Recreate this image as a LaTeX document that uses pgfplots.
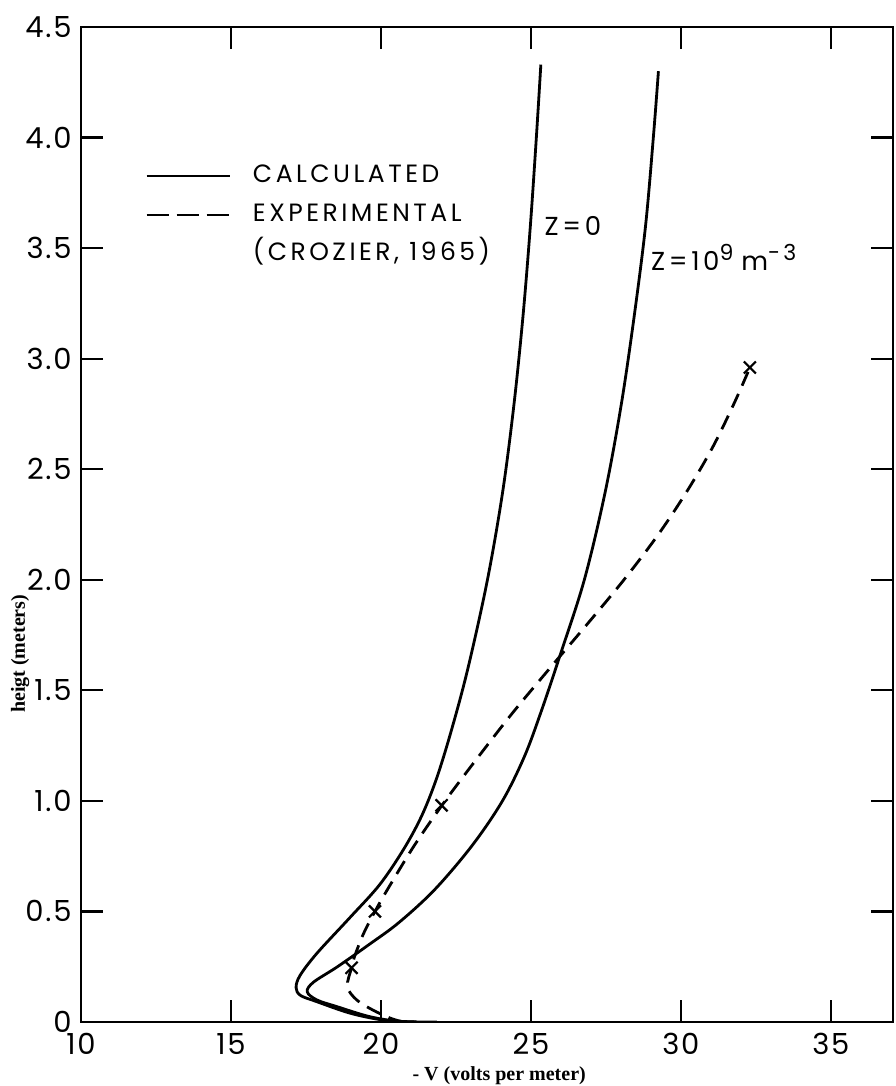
\documentclass[border=0pt]{standalone}
\usepackage{fontspec}
\setmainfont{Poppins}
\newfontfamily\lettering[LetterSpace=14]{Poppins}
\newfontfamily\ticklettering[LetterSpace=6]{Poppins}
\newfontfamily\serifb{Liberation Serif}
\usepackage{pgfplots}
\pgfplotsset{compat=1.18}
\begin{document}
\begin{tikzpicture}
\useasboundingbox (-81pt,-64pt) rectangle (814pt,1022pt);
\begin{axis}[
  scale only axis, width=812pt, height=995pt,
  at={(0pt,0pt)}, anchor=south west,
  xmin=10, xmax=37.07, ymin=0, ymax=4.5,
  xtick={10,15,...,35}, ytick={0,0.5,...,4.5},
  xticklabels={10,15,20,25,30,35},
  yticklabels={0,0.5,1.0,1.5,2.0,2.5,3.0,3.5,4.0,4.5},
  tick align=inside, xtick pos=both, ytick pos=both,
  major tick length=22pt,
  axis line style={line width=2.6pt},
  every tick/.style={black, line width=2.2pt},
  /pgf/number format/assume math mode=true,
  tick label style={font=\ticklettering\fontsize{29}{29}\selectfont},
  xticklabel style={yshift=-8pt},
  yticklabel style={xshift=-6pt},
  xlabel={- V (volts per meter)},
  xlabel style={at={(axis description cs:0.515,-0.054)}, anchor=center, font=\serifb\bfseries\fontsize{20}{20}\selectfont},
  ylabel={heigt (meters)},
  ylabel style={at={(axis description cs:-0.075,0.37)}, anchor=center, font=\serifb\bfseries\fontsize{20}{20}\selectfont},
  legend image code/.code={\draw[#1] (0pt,0pt) -- (83pt,0pt);},
  legend cell align=left,
  legend style={draw=none, fill=none, at={(axis description cs:0.0788,0.862)}, anchor=north west,
    inner sep=0pt, column sep=22pt, row sep=16pt,
    nodes={inner sep=0pt, text height=18pt, text depth=5pt, font=\lettering\fontsize{25}{25}\selectfont}},
]
\addlegendimage{black, line width=2.8pt}
\addlegendentry{CALCULATED}
\addlegendimage{black, line width=2.8pt, dash pattern=on 22pt off 8pt}
\addlegendentry{EXPERIMENTAL}
\addlegendimage{empty legend}
\addlegendentry{(CROZIER, 1965)}

% Z = 0 (calculated)
\addplot[black, line width=2.8pt, smooth, tension=0.55, forget plot] coordinates {
(21.2,0.0) (20.07,0.009) (18.97,0.04) (17.86,0.092) (17.32,0.12) (17.17,0.155)
(17.30,0.21) (17.86,0.31) (18.95,0.47) (19.95,0.62) (20.75,0.78) (21.35,0.93)
(21.85,1.10) (22.35,1.32) (22.90,1.60) (23.55,2.00) (24.06,2.40) (24.44,2.80)
(24.74,3.20) (24.98,3.60) (25.18,4.00) (25.33,4.33)
};
% Z = 1e9 m^-3 (calculated)
\addplot[black, line width=2.8pt, smooth, tension=0.55, forget plot] coordinates {
(21.86,0.0) (20.63,0.003) (19.63,0.024) (18.52,0.07) (17.86,0.10) (17.54,0.137)
(17.75,0.18) (18.55,0.25) (19.60,0.35) (20.60,0.45) (21.80,0.60) (23.05,0.80)
(24.05,1.00) (24.78,1.20) (25.33,1.40) (25.95,1.65) (26.78,2.00) (27.48,2.40)
(28.02,2.80) (28.45,3.20) (28.82,3.60) (29.08,4.00) (29.25,4.30)
};
% Experimental (Crozier, 1965)
\addplot[black, line width=2.8pt, dash pattern=on 15pt off 9pt, smooth, tension=0.55, forget plot] coordinates {
(20.73,0.0) (20.30,0.018) (19.73,0.054) (19.19,0.10) (18.88,0.16) (19.02,0.245)
(19.13,0.30) (19.42,0.40) (19.80,0.50) (20.22,0.60) (21.12,0.80) (22.14,1.00)
(23.25,1.20) (24.40,1.40) (25.63,1.60) (26.88,1.80) (28.10,2.00) (29.22,2.20)
(30.20,2.40) (31.06,2.60) (31.78,2.80) (32.30,2.96)
};
\addplot[only marks, mark=x, mark size=8.5pt, mark options={black, line width=2.2pt, solid}, forget plot] coordinates {
(19.02,0.245) (19.80,0.50) (22.02,0.98) (32.30,2.96)
};
\node[anchor=west, inner sep=0pt, font=\lettering\fontsize{26}{26}\selectfont] at (axis cs:25.45,3.60) {Z=0};
\node[anchor=west, inner sep=0pt, font=\lettering\fontsize{26}{26}\selectfont] at (axis cs:29.0,3.46) {Z=10\raisebox{10pt}{\fontsize{22}{22}\selectfont 9}\hspace{8pt}m\raisebox{10pt}{\fontsize{22}{22}\selectfont -3}};
\end{axis}
\end{tikzpicture}
\end{document}
